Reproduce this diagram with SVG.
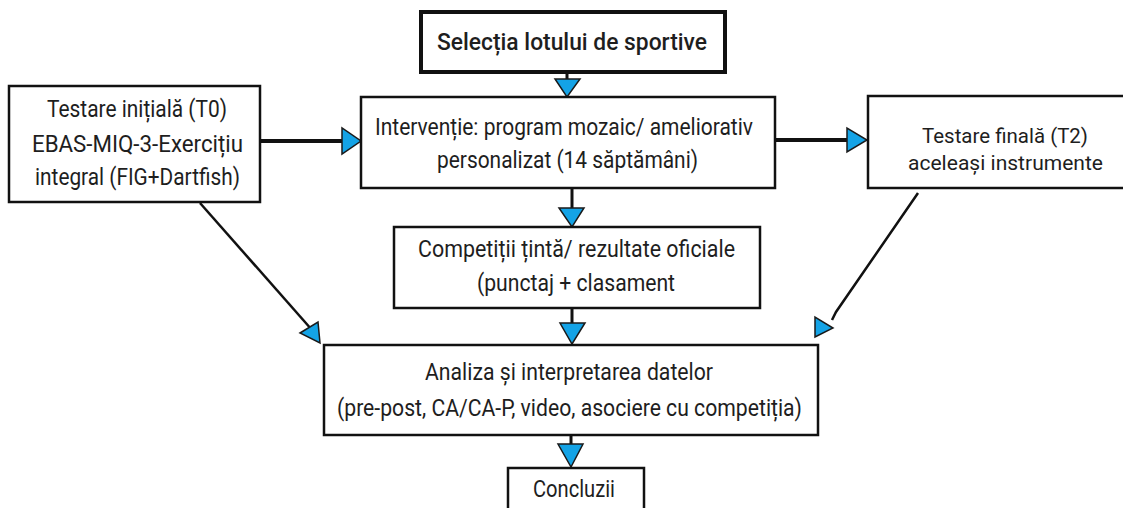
<svg xmlns="http://www.w3.org/2000/svg" width="1123" height="508" viewBox="0 0 1123 508">
<style>
  .box { fill: #ffffff; stroke: #111111; stroke-width: 2.5; }
  .box-bold { fill: #ffffff; stroke: #111111; stroke-width: 4; }
  .t { font-family: Roboto, "Noto Sans", "DejaVu Sans", sans-serif; font-size: 23px; font-weight: 400; fill: #1e1e1e; text-anchor: middle; }
  .tb { font-size: 24px; font-weight: 500; }
  .ts { font-size: 21px; }
  .ln { stroke: #111111; fill: none; stroke-linecap: butt; }
  .thick { stroke-width: 4; }
  .mid { stroke-width: 3; }
  .thin { stroke-width: 2.5; }
  .ah { fill: #14a3e6; stroke: #1a1a1a; stroke-width: 1.5; stroke-linejoin: miter; }
</style>
<rect width="1123" height="508" fill="#ffffff"/>

<g id="connectors">
  <line class="ln mid" x1="567" y1="72" x2="567" y2="80"/>
  <polygon class="ah" points="555,79 580,79 567,97"/>

  <line class="ln thick" x1="260" y1="141" x2="343" y2="141"/>
  <polygon class="ah" points="342,128 342,154 361,141"/>

  <line class="ln thick" x1="775" y1="140" x2="848" y2="140"/>
  <polygon class="ah" points="847,128 847,152 867,140"/>

  <line class="ln mid" x1="572" y1="188" x2="572" y2="209"/>
  <polygon class="ah" points="559,208 584,208 572,227"/>

  <line class="ln mid" x1="572" y1="308" x2="572" y2="324"/>
  <polygon class="ah" points="560,323 585,323 572,344"/>

  <line class="ln mid" x1="571" y1="435" x2="571" y2="445"/>
  <polygon class="ah" points="558,444 583,444 571,467"/>

  <line class="ln thin" x1="200" y1="203" x2="312" y2="330"/>
  <polygon class="ah" points="300,333 318,322 320,343"/>

  <polyline class="ln thin" points="918,193 836,312 832,320"/>
  <polygon class="ah" points="815,317 815,337 833,328"/>
</g>

<g id="node-selectia">
  <rect class="box-bold" x="421" y="12" width="304" height="60"/>
  <text class="t tb" x="572" y="50" textLength="270" lengthAdjust="spacingAndGlyphs">Selecția lotului de sportive</text>
</g>

<g id="node-testare-initiala">
  <rect class="box" x="9" y="86" width="251" height="116"/>
  <text class="t" x="137" y="117" textLength="180" lengthAdjust="spacingAndGlyphs">Testare inițială (T0)</text>
  <text class="t" x="137.5" y="152" textLength="211" lengthAdjust="spacingAndGlyphs">EBAS-MIQ-3-Exercițiu</text>
  <text class="t" x="137.5" y="185" textLength="205" lengthAdjust="spacingAndGlyphs">integral (FIG+Dartfish)</text>
</g>

<g id="node-interventie">
  <rect class="box" x="361" y="97" width="414" height="91"/>
  <text class="t" x="564" y="135" textLength="378" lengthAdjust="spacingAndGlyphs">Intervenție: program mozaic/ ameliorativ</text>
  <text class="t" x="567.5" y="168" textLength="261" lengthAdjust="spacingAndGlyphs">personalizat (14 săptămâni)</text>
</g>

<g id="node-testare-finala">
  <rect class="box" x="868" y="96" width="258" height="92"/>
  <text class="t ts" x="1005" y="143" textLength="166" lengthAdjust="spacingAndGlyphs">Testare finală (T2)</text>
  <text class="t ts" x="1005.5" y="170" textLength="195" lengthAdjust="spacingAndGlyphs">aceleași instrumente</text>
</g>

<g id="node-competitii">
  <rect class="box" x="394" y="227" width="366" height="81"/>
  <text class="t" x="576.5" y="257" textLength="317" lengthAdjust="spacingAndGlyphs">Competiții țintă/ rezultate oficiale</text>
  <text class="t" x="576" y="291" textLength="198" lengthAdjust="spacingAndGlyphs">(punctaj + clasament</text>
</g>

<g id="node-analiza">
  <rect class="box" x="324" y="345" width="494" height="90"/>
  <text class="t" x="569" y="380" textLength="288" lengthAdjust="spacingAndGlyphs">Analiza și interpretarea datelor</text>
  <text class="t" x="569.5" y="416" textLength="465" lengthAdjust="spacingAndGlyphs">(pre-post, CA/CA-P, video, asociere cu competiția)</text>
</g>

<g id="node-concluzii">
  <rect class="box" x="508" y="468" width="136" height="46"/>
  <text class="t" x="574" y="497" textLength="82" lengthAdjust="spacingAndGlyphs">Concluzii</text>
</g>
</svg>
